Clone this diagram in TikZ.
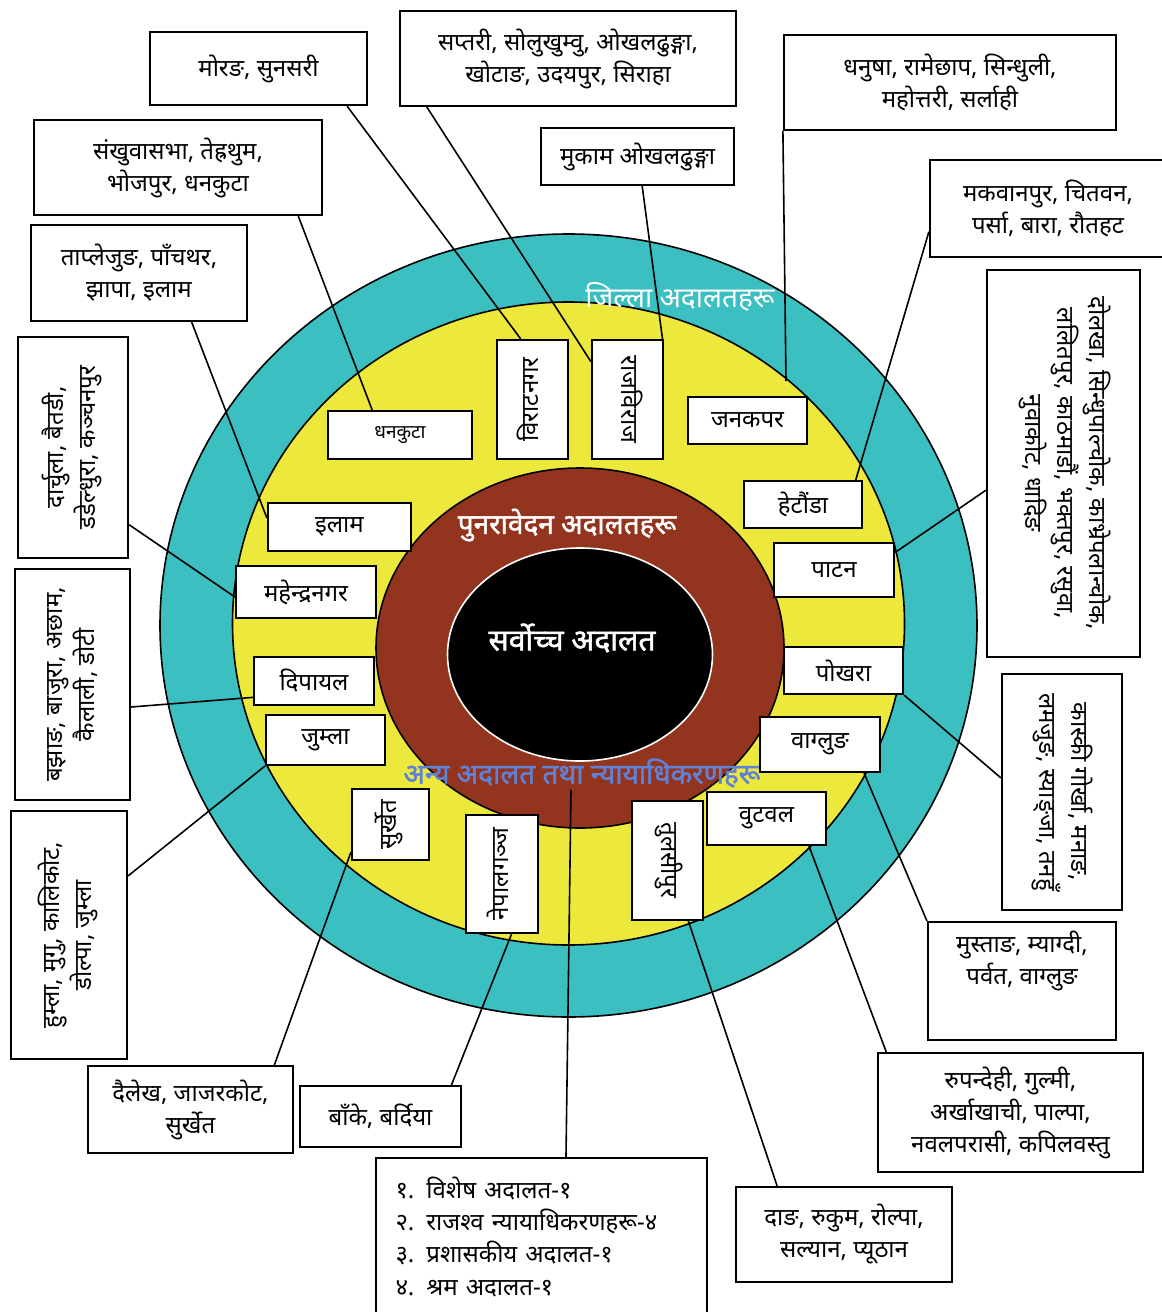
\documentclass[tikz,border=0pt]{standalone}
\usepackage{fontspec}
\setmainfont[Script=Devanagari]{Noto Sans}
\newfontfamily\heavyfont[Script=Devanagari,FakeBold=1.6]{Noto Sans}
\usetikzlibrary{arrows,shapes}
\definecolor{tealring}{RGB}{60,191,192}
\definecolor{yellowring}{RGB}{237,232,60}
\definecolor{brownring}{RGB}{147,52,31}
\definecolor{otherblue}{RGB}{95,130,215}
\tikzstyle{ring}=[draw=black,line width=0.8pt]
\tikzstyle{ringtitle}=[inner sep=1pt,font=\fontsize{14}{16}\heavyfont]
\tikzstyle{court}=[draw,line width=1.1pt,fill=white,inner sep=2pt,font=\fontsize{12}{15}\selectfont]
\tikzstyle{region}=[court,align=center,font=\fontsize{12}{16}\selectfont]
\tikzstyle{edge} = [draw,line width=0.8pt,-]
\newcommand{\vlabel}[2]{\rotatebox{#1}{\begin{tabular}{@{}c@{}}#2\end{tabular}}}

\begin{document}
\begin{tikzpicture}[x=0.5pt,y=-0.5pt]
    \useasboundingbox (0,0) rectangle (1162,1312);
    % First we draw the rings
    \path[ring,fill=tealring] (568.5,625.5) ellipse [x radius=408.5,y radius=391.5];
    \path[ring,fill=yellowring] (568.5,623.5) ellipse [x radius=336,y radius=321.5];
    \path[ring,fill=brownring] (580,648) ellipse [x radius=204,y radius=180];
    \path[ring,fill=black,draw=white] (580,654.5) ellipse [x radius=132.5,y radius=106.5];
    % Titles of the rings
    \node[ringtitle,white,font=\fontsize{14}{16}\selectfont] (district) at (680,297) {जिल्ला अदालतहरू};
    \node[ringtitle,white] (appeal) at (567,525) {पुनरावेदन अदालतहरू};
    \node[ringtitle,white,font=\fontsize{15}{17}\heavyfont] (supreme) at (572,638) {सर्वोच्च अदालत};
    \node[ringtitle,otherblue] (other) at (582,773) {अन्य अदालत तथा न्यायाधिकरणहरू};
    \coordinate (janakpurtip) at (786,381);
    % Courts inside the rings
    \foreach \x/\y/\w/\h/\name/\txt in {
        400/435/144/48/dhankuta/{\fontsize{9.5}{11}\selectfont धनकुटा},
        339.5/527/143/48/ilam/इलाम,
        306/592/140/52/mahendranagar/महेन्द्रनगर,
        314/681/120/48/dipayal/दिपायल,
        325.5/740/119/50/jumla/जुम्ला,
        390.5/824.5/77/71/surkhet/{\vlabel{90}{सुर्खेत}},
        502/874/72/118/nepalgunj/{\vlabel{90}{नेपालगञ्ज}},
        667.5/860.5/71/119/tulsipur/{\vlabel{-90}{तुलसीपुर}},
        766.5/818.5/119/53/butwal/वुटवल,
        820/744.5/120/55/baglung/वाग्लुङ,
        843.5/670.5/119/47/pokhara/पोखरा,
        834/570/120/54/patan/पाटन,
        803/504.5/118/47/hetauda/हेटौंडा,
        747.5/420.5/119/47/janakpur/जनकपर,
        627.5/399.5/71/119/rajbiraj/{\vlabel{-90}{राजविराज}},
        532.5/399.5/71/119/biratnagar/{\vlabel{90}{विराटनगर}}}
       \node[court,minimum width=\w*0.5pt,minimum height=\h*0.5pt] (\name) at (\x,\y) {\txt};
    % Districts around the rings
    \foreach \x/\y/\w/\h/\name/\txt in {
        258.5/68.5/217/73/morang/{मोरङ, सुनसरी},
        568/58.5/336/95/saptari/{सप्तरी, सोलुखुम्वु, ओखलढुङ्गा,\\ खोटाङ, उदयपुर, सिराहा},
        637.5/156.5/193/57/mukam/{मुकाम ओखलढुङ्गा},
        950/82.5/332/95/dhanusha/{धनुषा, रामेछाप, सिन्धुली,\\ महोत्तरी, सर्लाही},
        1048/208.5/236/97/makwanpur/{मकवानपुर, चितवन,\\ पर्सा, बारा, रौतहट},
        178/167.5/288/95/sankhuwa/{संखुवासभा, तेह्रथुम,\\ भोजपुर, धनकुटा},
        139/273/216/96/taplejung/{ताप्लेजुङ, पाँचथर,\\ झापा, इलाम},
        1063.5/463.5/153/387/dolakha/{\vlabel{-90}{दोलखा, सिन्धुपाल्चोक, काभ्रेपलान्चोक,\\ ललितपुर, काठमाडौं, भक्तपुर, रसुवा,\\ नुवाकोट, धादिङ}},
        1062/792/120/236/kaski/{\vlabel{-90}{कास्की गोर्खा, मनाङ,\\ लमजुङ, स्याङ्जा, तनहुँ}},
        1022/981/188/118/mustang/{मुस्ताङ, म्याग्दी,\\ पर्वत, वाग्लुङ\\[7pt]},
        1010.5/1112.5/265/119/rupandehi/{रुपन्देही, गुल्मी,\\ अर्खाखाची, पाल्पा,\\ नवलपरासी, कपिलवस्तु},
        844/1234.5/216/95/dang/{दाङ, रुकुम, रोल्पा,\\ सल्यान, प्यूठान},
        380.5/1116.5/161/61/banke/{बाँके, बर्दिया},
        190.5/1109.5/205/87/dailekh/{दैलेख, जाजरकोट,\\ सुर्खेत},
        69/935/116/248/humla/{\vlabel{90}{हुम्ला, मुगु, कालिकोट,\\ डोल्पा, जुम्ला}},
        72.5/684.5/115/231/bajhang/{\vlabel{90}{बझाङ, बाजुरा, अछाम,\\ कैलाली, डोटी}},
        73/447.5/110/221/darchula/{\vlabel{90}{दार्चुला, बैतडी,\\ डडेल्धुरा, कञ्चनपुर}}}
       \node[region,minimum width=\w*0.5pt,minimum height=\h*0.5pt] (\name) at (\x,\y) {\txt};
    \node[region,align=left,text width=146pt,minimum width=165.5pt,minimum height=79pt] (list) at (541.5,1237)
        {१. विशेष अदालत-१\\ २. राजश्व न्यायाधिकरणहरू-४\\ ३. प्रशासकीय अदालत-१\\ ४. श्रम अदालत-१};
    % Connect districts with their courts
    \foreach \source/\dest in {morang.-23/biratnagar.101, saptari.-161/rajbiraj.134, mukam.-81/rajbiraj.60,
        dhanusha.south west/janakpurtip, makwanpur.-169/hetauda.25, sankhuwa.-22/dhankuta.138,
        taplejung.-43/ilam.173, dolakha.-161/patan.16, kaski.167/pokhara.south east,
        mustang.north west/baglung.-33, rupandehi.154/butwal.-33, dang.144/tulsipur.-71,
        banke.24/nepalgunj.-81, dailekh.28/surkhet.-145, humla.45/jumla.south west,
        bajhang.-21/dipayal.-165, darchula.-54/mahendranagar.-176}
        \path[edge] (\source) -- (\dest);
    \path[edge] (list.73) -- ([xshift=-5.5pt]other.south);
\end{tikzpicture}
\end{document}
